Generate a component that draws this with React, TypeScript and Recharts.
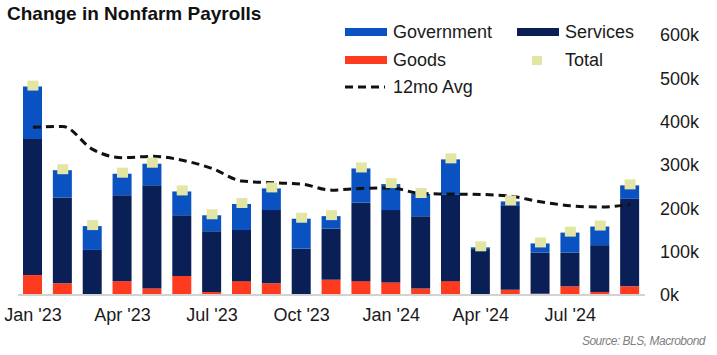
import { ComposedChart, Bar, Line, XAxis, YAxis } from "recharts"

document.body.style.margin = "0"

const months = [
  "Jan '23", "Feb '23", "Mar '23", "Apr '23", "May '23", "Jun '23", "Jul '23",
  "Aug '23", "Sep '23", "Oct '23", "Nov '23", "Dec '23", "Jan '24", "Feb '24",
  "Mar '24", "Apr '24", "May '24", "Jun '24", "Jul '24", "Aug '24", "Sep '24",
]
// thousands of jobs
const goods = [46, 27, 0, 32, 15, 44, 7, 32, 27, 0, 35, 32, 29, 15, 32, 0, 12, 3, 20, 7, 20]
const services = [314, 198, 104, 198, 238, 140, 140, 118, 169, 107, 118, 181, 167, 167, 199, 106, 195, 95, 78, 108, 202]
const government = [121, 63, 55, 50, 50, 55, 37, 60, 50, 69, 29, 79, 60, 51, 82, 4, 9, 21, 46, 43, 31]
const avg12 = [387, 389, 336, 317, 320, 311, 292, 263, 259, 256, 242, 246, 247, 234, 233, 232, 228, 215, 206, 203, 209]
const yTicks = [0, 100, 200, 300, 400, 500, 600]

const C_GOV = "#0a52c2"
const C_SERV = "#0b1f57"
const C_GOODS = "#ff3b1f"
const C_TOTAL = "#e3e5a5"
const FONT = "'Liberation Sans', Arial, sans-serif"

const data = months.map((m, i) => ({
  month: m,
  goods: goods[i],
  services: services[i],
  government: government[i],
  total: goods[i] + services[i] + government[i],
  avg: avg12[i],
}))

const TotalDot = (props: any) => {
  const { cx, cy } = props
  if (cx == null || cy == null) return null
  return <rect x={cx - 5.5} y={cy - 6} width={11} height={10} fill={C_TOTAL} />
}

const Swatch = ({ color }: { color: string }) => (
  <div style={{ width: 42, height: 8, background: color }} />
)

const legendItem = (left: number, top: number, mark: any, label: string) => (
  <div style={{ position: "absolute", left, top, display: "flex", alignItems: "center", height: 20 }}>
    <div style={{ width: 48, display: "flex", alignItems: "center" }}>{mark}</div>
    <span style={{ fontSize: 18, color: "#1a1a1a" }}>{label}</span>
  </div>
)

const App = () => {
  return (
    <div style={{ position: "relative", width: 717, height: 355, fontFamily: FONT, background: "#fff" }}>
      <div style={{ position: "absolute", left: 7, top: 3, fontSize: 19, fontWeight: "bold", color: "#111" }}>
        Change in Nonfarm Payrolls
      </div>
      <ComposedChart width={717} height={355} data={data} margin={{ top: 35, right: 12, bottom: 30, left: 18 }}>
        <XAxis
          dataKey="month"
          interval={2}
          tickLine={false}
          tickMargin={7}
          height={30}
          axisLine={{ stroke: "#d2d2d2", strokeWidth: 2 }}
          tick={{ fontSize: 18, fill: "#1a1a1a", fontFamily: FONT }}
        />
        <YAxis
          orientation="right"
          domain={[0, 600]}
          ticks={yTicks}
          tickFormatter={(v: number) => `${v}k`}
          axisLine={false}
          tickLine={false}
          tickMargin={9}
          width={60}
          tick={{ fontSize: 18, fill: "#1a1a1a", fontFamily: FONT }}
        />
        <Bar dataKey="goods" stackId="a" fill={C_GOODS} barSize={19} isAnimationActive={false} />
        <Bar dataKey="services" stackId="a" fill={C_SERV} barSize={19} isAnimationActive={false} />
        <Bar dataKey="government" stackId="a" fill={C_GOV} barSize={19} isAnimationActive={false} />
        <Line dataKey="avg" type="monotone" stroke="#111" strokeWidth={3} strokeDasharray="8 5" dot={false} isAnimationActive={false} />
        <Line dataKey="total" stroke="none" dot={<TotalDot />} activeDot={false} isAnimationActive={false} />
      </ComposedChart>
      {legendItem(345, 22, <Swatch color={C_GOV} />, "Government")}
      {legendItem(517, 22, <Swatch color={C_SERV} />, "Services")}
      {legendItem(345, 50, <Swatch color={C_GOODS} />, "Goods")}
      {legendItem(517, 50, <div style={{ marginLeft: 15, width: 10, height: 9, background: C_TOTAL }} />, "Total")}
      {legendItem(
        345,
        77,
        <svg width={40} height={4}>
          <line x1={0} y1={2} x2={40} y2={2} stroke="#111" strokeWidth={3} strokeDasharray="8 5" />
        </svg>,
        "12mo Avg"
      )}
      <div style={{ position: "absolute", right: 12, top: 334, fontSize: 12, letterSpacing: -0.5, fontStyle: "italic", color: "#808080" }}>
        Source: BLS, Macrobond
      </div>
    </div>
  )
}

export default App
